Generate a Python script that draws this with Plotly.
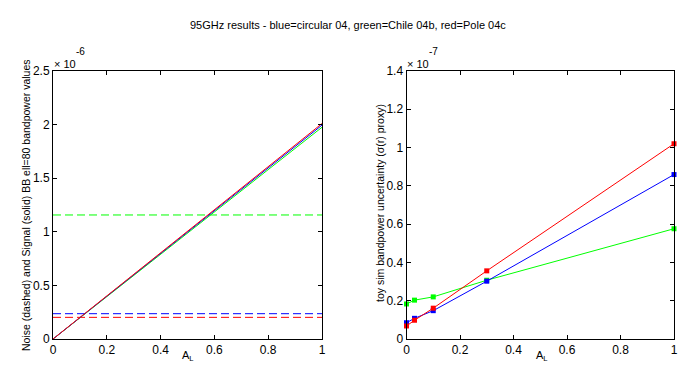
import plotly.graph_objects as go

# ---- data ----
AL_line = [0.0, 1.0]
# signal at A_L=1 (units of 1e-6)
signal_end_blue = 1.995
signal_end_green = 1.975
signal_end_red = 2.01
# noise levels (units of 1e-6)
noise_blue = 0.236
noise_green = 1.157
noise_red = 0.202

AL_pts = [0.0, 0.03, 0.1, 0.3, 1.0]
# uncertainty (units of 1e-7)
sig_blue = [0.085, 0.108, 0.148, 0.302, 0.859]
sig_green = [0.183, 0.203, 0.220, 0.307, 0.576]
sig_red = [0.068, 0.098, 0.161, 0.356, 1.020]

x_ticks = [0, 0.2, 0.4, 0.6, 0.8, 1]
x_ticktext = ["0", "0.2", "0.4", "0.6", "0.8", "1"]
yl_ticks = [0, 0.5, 1, 1.5, 2, 2.5]
yl_ticktext = ["0", "0.5", "1", "1.5", "2", "2.5"]
yr_ticks = [0, 0.2, 0.4, 0.6, 0.8, 1, 1.2, 1.4]
yr_ticktext = ["0", "0.2", "0.4", "0.6", "0.8", "1", "1.2", "1.4"]

BLUE, GREEN, RED = "#0000ff", "#00ff00", "#ff0000"
FONT = "Liberation Sans, Arial, sans-serif"

fig = go.Figure()

# left panel: dashed noise lines
for lvl, c in [(noise_green, GREEN), (noise_blue, BLUE), (noise_red, RED)]:
    fig.add_trace(go.Scatter(x=AL_line, y=[lvl, lvl], mode="lines",
                             line=dict(color=c, width=1, dash="8px,4px"),
                             xaxis="x", yaxis="y", showlegend=False))
# left panel: solid signal lines
for end, c in [(signal_end_green, GREEN), (signal_end_blue, BLUE), (signal_end_red, RED)]:
    fig.add_trace(go.Scatter(x=AL_line, y=[0, end], mode="lines",
                             line=dict(color=c, width=1),
                             xaxis="x", yaxis="y", showlegend=False))

# right panel
for ys, c in [(sig_green, GREEN), (sig_blue, BLUE), (sig_red, RED)]:
    fig.add_trace(go.Scatter(x=AL_pts, y=ys, mode="lines+markers",
                             line=dict(color=c, width=1),
                             marker=dict(color=c, size=5, symbol="square"),
                             xaxis="x2", yaxis="y2", showlegend=False,
                             cliponaxis=False))

ax_common = dict(showline=True, linecolor="black", linewidth=1, mirror="ticks",
                 ticks="inside", ticklen=4, tickcolor="black", showgrid=False,
                 zeroline=False, automargin=False,
                 tickfont=dict(family=FONT, size=12, color="black"))

ybot = (390 - 339) / 390
ytop = (390 - 71) / 390

fig.update_layout(
    width=696, height=390,
    margin=dict(l=0, r=0, t=0, b=0, autoexpand=False),
    paper_bgcolor="white", plot_bgcolor="white",
    font=dict(family=FONT, size=11, color="black"),
    xaxis=dict(domain=[53 / 696, 322 / 696], range=[0, 1], tickvals=x_ticks,
               ticktext=x_ticktext, anchor="y", **ax_common),
    yaxis=dict(domain=[ybot, ytop], range=[0, 2.5], tickvals=yl_ticks,
               ticktext=yl_ticktext, anchor="x", **ax_common),
    xaxis2=dict(domain=[406.5 / 696, 674 / 696], range=[0, 1], tickvals=x_ticks,
                ticktext=x_ticktext, anchor="y2", **ax_common),
    yaxis2=dict(domain=[ybot, ytop], range=[0, 1.4], tickvals=yr_ticks,
                ticktext=yr_ticktext, anchor="x2", **ax_common),
)

def P(px, py):
    return px / 696, (390 - py) / 390

ann = []
def add(text, px, py, size=11, angle=0, xa="center", ya="middle"):
    x, y = P(px, py)
    ann.append(dict(text=text, x=x, y=y, xref="paper", yref="paper",
                    xanchor=xa, yanchor=ya, textangle=angle, showarrow=False,
                    font=dict(size=size)))

add("95GHz results - blue=circular 04, green=Chile 04b, red=Pole 04c", 348, 25)
add("× 10", 52, 64, xa="left")
add("-6", 74, 52, size=10, xa="left")
add("× 10", 405, 64, xa="left")
add("-7", 427, 52, size=10, xa="left")
add("A<sub>L</sub>", 188, 356)
add("A<sub>L</sub>", 542, 356)
add("Noise (dashed) and Signal (solid) BB ell=80 bandpower values", 26, 205,
    size=10.5, angle=-90)
add("toy sim bandpower uncertainty (σ(r) proxy)", 380, 203, size=10.5, angle=-90)
fig.update_layout(annotations=ann)

fig.write_html("out.html", post_script="document.body.style.margin='0';",
               config={"displayModeBar": False})
